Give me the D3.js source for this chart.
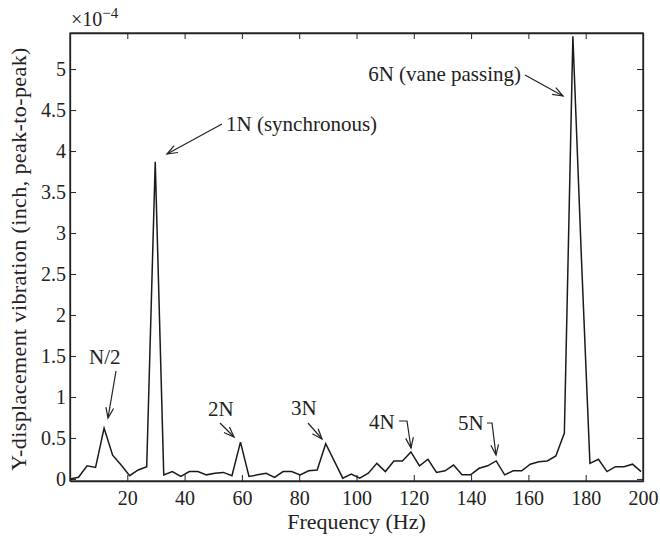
<!DOCTYPE html>
<html>
<head>
<meta charset="utf-8">
<script src="https://cdn.jsdelivr.net/npm/d3@7"></script>
<style>
  body { margin: 0; background: #fff; }
  svg text { font-family: "Liberation Serif", "DejaVu Serif", serif; fill: #222; }
</style>
</head>
<body>
<svg id="chart" width="660" height="538"></svg>
<script>
// frequency spacing of the spectrum (Hz)
const step = 2.975;
// amplitude, x1e-4 inch peak-to-peak, one value per frequency bin
const amp = [
  0.00, 0.02, 0.16, 0.14, 0.62, 0.29, 0.17, 0.04, 0.11, 0.15,
  3.87, 0.05, 0.09, 0.03, 0.09, 0.09, 0.05, 0.07, 0.08, 0.04,
  0.45, 0.03, 0.05, 0.07, 0.02, 0.09, 0.09, 0.05, 0.10, 0.11,
  0.43, 0.22, 0.01, 0.06, 0.01, 0.07, 0.19, 0.09, 0.22, 0.22,
  0.33, 0.16, 0.24, 0.08, 0.10, 0.17, 0.05, 0.05, 0.13, 0.16,
  0.22, 0.05, 0.10, 0.10, 0.18, 0.21, 0.22, 0.28, 0.56, 5.40,
  2.70, 0.19, 0.24, 0.09, 0.15, 0.15, 0.18, 0.09
];
const freq = amp.map((d, i) => i * step);

const xTicks = [20, 40, 60, 80, 100, 120, 140, 160, 180, 200];
const yTicks = [0, 0.5, 1, 1.5, 2, 2.5, 3, 3.5, 4, 4.5, 5];

// annotations: label, text anchor/position, arrow path (tail ... head)
const notes = [
  { label: "N/2", anchor: "start", tx: 89, ty: 364, path: [[116, 371], [108, 418]] },
  { label: "1N (synchronous)", anchor: "start", tx: 226, ty: 131, path: [[222, 124], [167, 154]] },
  { label: "2N", anchor: "start", tx: 208, ty: 416, path: [[220, 423], [234, 437]] },
  { label: "3N", anchor: "start", tx: 291, ty: 415, path: [[308, 423], [322, 439]] },
  { label: "4N", anchor: "start", tx: 369, ty: 429, path: [[399, 421], [407, 421], [411, 448]] },
  { label: "5N", anchor: "start", tx: 458, ty: 430, path: [[487, 423], [492, 423], [496, 455]] },
  { label: "6N (vane passing)", anchor: "end", tx: 521, ty: 81, path: [[525, 75], [563, 96]] }
];

const svg = d3.select("#chart");
const m = { left: 70, right: 643, top: 33, bottom: 481 };

const x = d3.scaleLinear().domain([0, 200]).range([m.left, m.right]);
const y = d3.scaleLinear().domain([-0.025, 5.44]).range([m.bottom, m.top]);

const fmt = d => d3.format("")(d);

svg.append("g")
    .attr("transform", "translate(0," + m.bottom + ")")
    .call(d3.axisBottom(x).tickValues(xTicks).tickSize(-6).tickPadding(10).tickSizeOuter(0))
    .call(g => g.selectAll("text").attr("font-size", 20));

svg.append("g")
    .attr("transform", "translate(0," + m.top + ")")
    .call(d3.axisTop(x).tickValues(xTicks).tickSize(-6).tickFormat("").tickSizeOuter(0));

svg.append("g")
    .attr("transform", "translate(" + m.left + ",0)")
    .call(d3.axisLeft(y).tickValues(yTicks).tickSize(-6).tickPadding(4).tickFormat(fmt).tickSizeOuter(0))
    .call(g => g.selectAll("text").attr("font-size", 20));

svg.append("g")
    .attr("transform", "translate(" + m.right + ",0)")
    .call(d3.axisRight(y).tickValues(yTicks).tickSize(-6).tickFormat("").tickSizeOuter(0));

svg.selectAll(".domain").attr("stroke", "#222").attr("stroke-width", 1.3);
svg.selectAll(".tick line").attr("stroke", "#222");

svg.append("rect")
    .attr("x", m.left).attr("y", m.top)
    .attr("width", m.right - m.left).attr("height", m.bottom - m.top)
    .attr("fill", "none").attr("stroke", "#222").attr("stroke-width", 1.3);

// multiplier
const mult = svg.append("text").attr("x", 71).attr("y", 26).attr("font-size", 20);
mult.append("tspan").text("\u00d710");
mult.append("tspan").attr("dy", -8).attr("font-size", 15).text("\u22124");

const line = d3.line()
    .x((d, i) => x(freq[i]))
    .y(d => y(d));

svg.append("path")
    .datum(amp)
    .attr("fill", "none")
    .attr("stroke", "#1a1a1a")
    .attr("stroke-width", 1.5)
    .attr("stroke-linejoin", "miter")
    .attr("d", line);

// annotations
notes.forEach(n => {
  svg.append("text").attr("x", n.tx).attr("y", n.ty)
      .attr("text-anchor", n.anchor).attr("font-size", 21).text(n.label);
  svg.append("path")
      .attr("d", d3.line()(n.path))
      .attr("fill", "none").attr("stroke", "#222").attr("stroke-width", 1.2);
  const a = n.path[n.path.length - 2], b = n.path[n.path.length - 1];
  const ang = Math.atan2(b[1] - a[1], b[0] - a[0]);
  const len = 11, spread = 0.36;
  const head = [
    [b[0] - len * Math.cos(ang - spread), b[1] - len * Math.sin(ang - spread)],
    b,
    [b[0] - len * Math.cos(ang + spread), b[1] - len * Math.sin(ang + spread)]
  ];
  svg.append("path")
      .attr("d", d3.line()(head))
      .attr("fill", "none").attr("stroke", "#222").attr("stroke-width", 1.2);
});

svg.append("text")
    .attr("x", (m.left + m.right) / 2).attr("y", 529)
    .attr("text-anchor", "middle").attr("font-size", 22)
    .text("Frequency (Hz)");

svg.append("text")
    .attr("transform", "translate(26,259) rotate(-90)")
    .attr("text-anchor", "middle").attr("font-size", 22).attr("letter-spacing", 0.4)
    .text("Y-displacement vibration (inch, peak-to-peak)");
</script>
</body>
</html>
